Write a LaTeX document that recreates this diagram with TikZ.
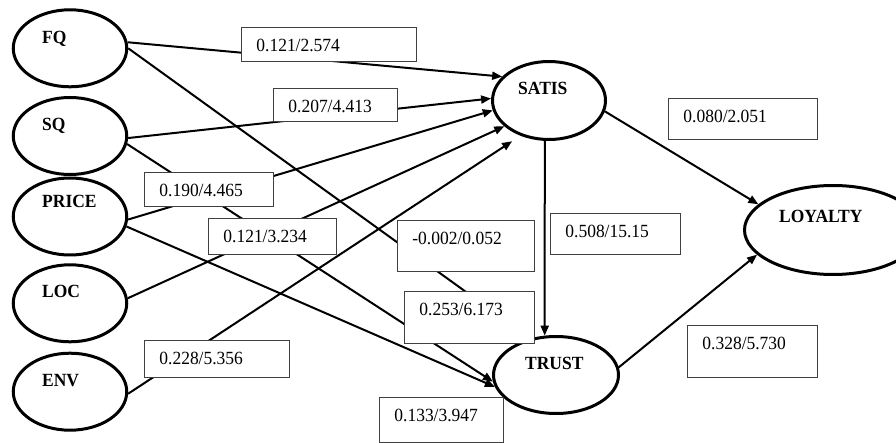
\documentclass[tikz,border=0pt]{standalone}
\usepackage{fontspec}
\setmainfont[FakeStretch=0.94]{Liberation Serif}
\usetikzlibrary{arrows.meta,shapes.geometric}
\begin{document}
\begin{tikzpicture}[x=1pt,y=-1pt,
  font=\fontsize{18.6pt}{22pt}\selectfont,
  construct/.style={draw, ellipse, line width=3pt, fill=white, inner sep=0pt},
  conlabel/.style={font=\fontsize{18.6pt}{22pt}\selectfont\bfseries, anchor=base west, inner sep=0pt},
  coef/.style={draw=black!75, line width=0.8pt, fill=white, anchor=north west,
               inner xsep=15pt, inner ysep=0pt, text height=24pt, align=left},
  relpath/.style={line width=2pt, -{Triangle[length=10pt,width=8pt]}}
]
\useasboundingbox (0,0) rectangle (896,443);
\fill[white] (0,0) rectangle (896,443);

% constructs
\node[construct, minimum width=113.5pt, minimum height=77pt] (FQ) at (70,48.3) {};
\node[construct, minimum width=113.5pt, minimum height=77pt] (SQ) at (70,136) {};
\node[construct, minimum width=113.5pt, minimum height=77pt] (PRICE) at (70,216.5) {};
\node[construct, minimum width=113.5pt, minimum height=77pt] (LOC) at (70,303.3) {};
\node[construct, minimum width=113.5pt, minimum height=77pt] (ENV) at (70,391.7) {};
\node[construct, minimum width=113pt, minimum height=78pt] (SATIS) at (549,100.5) {};
\node[construct, minimum width=125pt, minimum height=77pt] (TRUST) at (556,375) {};
\node[construct, minimum width=177pt, minimum height=89pt] (LOYALTY) at (833,230) {};

% construct labels
\node[conlabel] (FQl) at (42,44) {FQ};
\node[conlabel] (SQl) at (42,130.5) {SQ};
\node[conlabel] (PRICEl) at (42,207.5) {PRICE};
\node[conlabel] (LOCl) at (42,297.5) {LOC};
\node[conlabel] (ENVl) at (42,386.5) {ENV};
\node[conlabel] (SATISl) at (518,94.3) {SATIS};
\node[conlabel] (TRUSTl) at (525,369) {TRUST};
\node[conlabel] (LOYALTYl) at (779,223) {LOYALTY};

% paths
\draw[relpath] (FQ.6) -- (SATIS.153);
\draw[relpath] (SQ.-2) -- (SATIS.178);
\draw[relpath] (PRICE.-3) -- (SATIS.190);
\draw[relpath] (LOC.5) -- (SATIS.210);
\draw[relpath, shorten >=10pt] (ENV.-2) -- (SATIS.231);
\draw[relpath] (FQ.0) -- (TRUST.125);
\draw[relpath] (SQ.-8) -- (TRUST.186);
\draw[relpath] (PRICE.-10) -- (TRUST.191);
\draw[relpath] (SATIS.264) -- (TRUST.106);
\draw[relpath] (SATIS.-11) -- (LOYALTY.161);
\draw[relpath] (TRUST.7) -- (LOYALTY.198);

% coefficient boxes
\node[coef, text width=145pt, text depth=10pt] (b1) at (241,27) {0.121/2.574};
\node[coef, text width=94pt, text depth=9pt] (b2) at (273,88) {0.207/4.413};
\node[coef, text width=99pt, text depth=10pt] (b3) at (144,172) {0.190/4.465};
\node[coef, text width=98pt, text depth=12pt] (b4) at (208,218) {0.121/3.234};
\node[coef, text width=107pt, text depth=27pt] (b5) at (397,220) {-0.002/0.052};
\node[coef, text width=100pt, text depth=28pt] (b6) at (404,291) {0.253/6.173};
\node[coef, text width=94pt, text depth=21pt] (b7) at (379,397) {0.133/3.947};
\node[coef, text width=115pt, text depth=13pt] (b8) at (144,340) {0.228/5.356};
\node[coef, text width=100pt, text depth=17pt] (b9) at (550,213) {0.508/15.15};
\node[coef, text width=119pt, text depth=17pt] (b10) at (668,98) {0.080/2.051};
\node[coef, text width=100pt, text depth=28pt] (b11) at (687,325) {0.328/5.730};
\end{tikzpicture}
\end{document}
